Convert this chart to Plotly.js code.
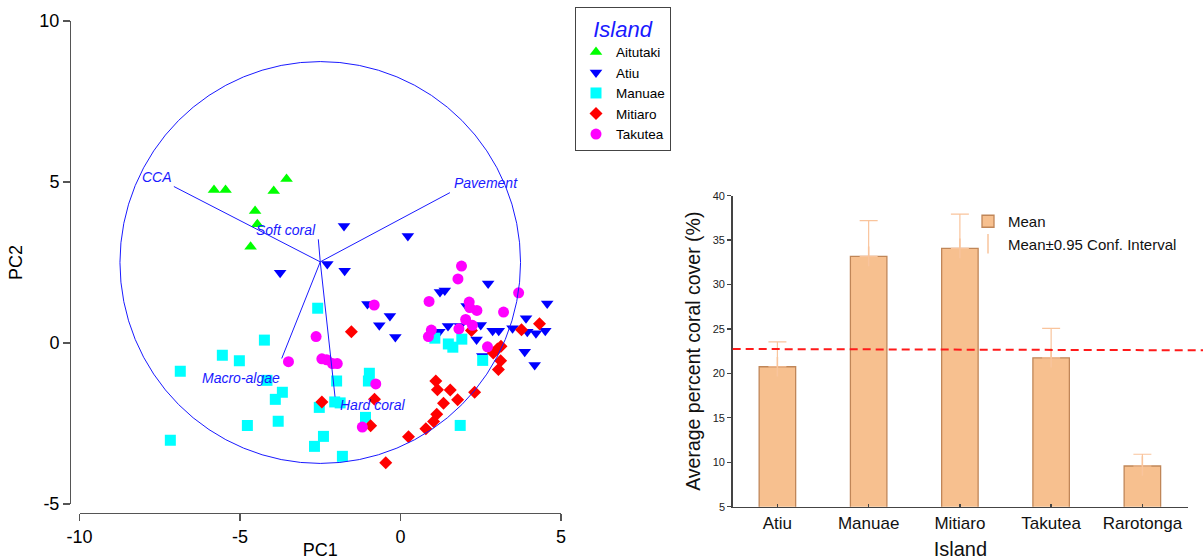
<!DOCTYPE html>
<html><head><meta charset="utf-8">
<script src="https://cdn.plot.ly/plotly-3.0.1.min.js"></script>
<style>html,body{margin:0;padding:0;background:#fff;}</style>
</head><body>
<div id="chart" style="width:1203px;height:560px;"></div>
<script>
// ---------- PCA biplot data ----------
const aitutakiX = [-5.81, -5.45, -3.95, -3.55, -4.53, -4.46, -4.67];
const aitutakiY = [4.75, 4.75, 4.72, 5.09, 4.10, 3.69, 2.99];

const atiuX = [-3.75, -1.76, 0.23, -2.28, -1.74, 1.23, 1.38, 2.73, 4.57, -1.03, -0.33, -0.66, -0.16, 2.06, 3.91, 1.48, 1.85, 2.50, 1.21, 2.37, 2.87, 3.06, 3.49, 3.95, 4.22, 4.51, 3.87, 4.18, 2.55];
const atiuY = [2.18, 3.63, 3.32, 2.45, 2.24, 1.58, 1.63, 1.85, 1.23, 1.21, 0.84, 0.55, 0.19, 1.15, 0.77, 0.53, 0.53, 0.56, 0.35, 0.11, 0.38, 0.38, 0.46, 0.35, 0.30, 0.38, -0.27, -0.68, -0.40];

const manuaeX = [-2.58, -4.24, -5.55, -5.02, -6.86, -4.16, -3.68, -3.90, -4.77, -3.81, -7.17, -2.68, -2.40, -1.81, -1.99, -0.97, -1.00, -2.05, -1.88, -2.53, -1.09, 1.86, 1.07, 1.49, 1.63, 1.91, 2.56];
const manuaeY = [1.08, 0.09, -0.38, -0.55, -0.88, -1.16, -1.53, -1.75, -2.56, -2.43, -3.02, -3.21, -2.90, -3.52, -1.18, -0.94, -1.18, -1.83, -1.86, -2.00, -2.31, -2.56, 0.15, -0.03, -0.13, 0.12, -0.54];

const mitiaroX = [-1.53, -2.45, -0.81, -0.93, -0.46, 0.25, 0.79, 1.03, 1.13, 1.34, 1.78, 1.55, 1.10, 1.15, 2.31, 2.21, 2.89, 3.02, 3.13, 3.12, 3.05, 3.77, 4.33];
const mitiaroY = [0.35, -1.83, -1.75, -2.57, -3.72, -2.91, -2.66, -2.44, -2.21, -1.87, -1.76, -1.46, -1.18, -1.45, -1.53, 0.39, -0.31, -0.19, -0.10, -0.55, -0.82, 0.41, 0.60];

const takuteaX = [1.90, 1.79, 3.68, 0.89, -0.82, 2.14, 2.16, 2.38, 3.21, 2.03, 2.24, 1.82, 0.96, 0.87, 2.71, -2.63, -2.45, -2.30, -2.12, -1.97, -0.77, -1.19, -3.49];
const takuteaY = [2.39, 1.99, 1.56, 1.29, 1.18, 1.27, 1.10, 1.01, 0.96, 0.73, 0.55, 0.44, 0.40, 0.20, -0.12, 0.20, -0.49, -0.52, -0.64, -0.64, -1.27, -2.61, -0.58];

// variable loadings (biplot vectors)
const vectorNames = ['CCA', 'Pavement', 'Soft coral', 'Macro-algae', 'Hard coral'];
const vectorEndX = [-7.06, 1.54, -2.56, -3.70, -2.04];
const vectorEndY = [4.86, 4.67, 3.22, -0.48, -1.67];
const vectorOrigin = [-2.5, 2.52];
const circleCenter = [-2.5, 2.5];
const circleRadius = [6.24];

// axis tick labels of the biplot
const pc1Ticks = [-10, -5, 0, 5];
const pc1TickText = ['-10', '-5', '0', '5'];
const pc2Ticks = [-5, 0, 5, 10];
const pc2TickText = ['-5', '0', '5', '10'];

// ---------- bar chart data ----------
const islands = ['Atiu', 'Manuae', 'Mitiaro', 'Takutea', 'Rarotonga'];
const meanCover = [20.75, 33.17, 34.07, 21.76, 9.58];
const ciUpper = [23.56, 37.20, 37.92, 25.07, 10.90];
const referenceLine = [22.75, 22.60];

// ---------- styles ----------
const FONT = 'Liberation Sans, Arial, Helvetica, sans-serif';
const W = 1203, H = 560;
const px = v => v / W;
const py = v => (H - v) / H;

const groups = [
  {name: 'Aitutaki', x: aitutakiX, y: aitutakiY, symbol: 'triangle-up', color: '#00ff00', size: 11},
  {name: 'Atiu', x: atiuX, y: atiuY, symbol: 'triangle-down', color: '#0000ff', size: 11},
  {name: 'Manuae', x: manuaeX, y: manuaeY, symbol: 'square', color: '#00ffff', size: 11},
  {name: 'Mitiaro', x: mitiaroX, y: mitiaroY, symbol: 'diamond', color: '#ff0000', size: 10},
  {name: 'Takutea', x: takuteaX, y: takuteaY, symbol: 'circle', color: '#ff00ff', size: 11}
];

const traces = groups.map(g => ({
  type: 'scatter', mode: 'markers', name: g.name, x: g.x, y: g.y,
  xaxis: 'x', yaxis: 'y', legend: 'legend',
  marker: {symbol: g.symbol, color: g.color, size: g.size, line: {width: 0}},
  hoverinfo: 'x+y+name'
}));

traces.push({
  type: 'bar', name: 'Mean', x: islands, y: meanCover, xaxis: 'x3', yaxis: 'y3',
  legend: 'legend2', width: 0.4,
  marker: {color: '#f7c08f', line: {color: '#c08658', width: 1.3}}
});
traces.push({
  type: 'scatter', mode: 'markers', name: 'Mean\u00b10.95 Conf. Interval',
  x: islands, y: meanCover, xaxis: 'x3', yaxis: 'y3', legend: 'legend2',
  marker: {symbol: 'line-ns-open', size: 14, color: '#f9c49c', line: {color: '#f7b98a', width: 1.5}},
  error_y: {type: 'data', symmetric: false,
            array: ciUpper.map((u, i) => u - meanCover[i]),
            arrayminus: meanCover.map(() => 0),
            color: '#f9c49c', thickness: 1.2, width: 9}
});

const labelStyle = {
  'CCA':         {xanchor: 'right', xshift: 0,  yshift: 10},
  'Pavement':    {xanchor: 'left',  xshift: 2,  yshift: 10},
  'Soft coral':  {xanchor: 'right', xshift: 0,  yshift: 9},
  'Macro-algae': {xanchor: 'right', xshift: 0,  yshift: -20},
  'Hard coral':  {xanchor: 'left',  xshift: 3,  yshift: -8}
};

const shapes = [];
shapes.push({type: 'circle', xref: 'x', yref: 'y', layer: 'above',
  x0: circleCenter[0] - circleRadius[0], x1: circleCenter[0] + circleRadius[0],
  y0: circleCenter[1] - circleRadius[0], y1: circleCenter[1] + circleRadius[0],
  line: {color: '#1a1aff', width: 1}});
vectorNames.forEach((n, i) => {
  shapes.push({type: 'line', xref: 'x', yref: 'y', layer: 'above',
    x0: vectorOrigin[0], y0: vectorOrigin[1], x1: vectorEndX[i], y1: vectorEndY[i],
    line: {color: '#1a1aff', width: 1}});
});
shapes.push({type: 'line', xref: 'x3 domain', yref: 'y3', layer: 'above',
  x0: 0, x1: (W - 732.7) / (1188 - 732.7), y0: referenceLine[0], y1: referenceLine[1],
  line: {color: '#ff1a1a', width: 2, dash: '8px,5px'}});

const annotations = vectorNames.map((n, i) => ({
  xref: 'x', yref: 'y', x: vectorEndX[i], y: vectorEndY[i], text: n, showarrow: false,
  xanchor: labelStyle[n].xanchor, yanchor: 'middle',
  xshift: labelStyle[n].xshift, yshift: labelStyle[n].yshift,
  font: {family: FONT, size: 14, color: '#1a1aff', style: 'italic'}
}));

const axisCommon = {
  showgrid: false, zeroline: false, showline: true, linecolor: '#555', linewidth: 1.3,
  tickcolor: '#555', tickwidth: 1.3, automargin: false
};

const layout = {
  width: W, height: H, margin: {l: 0, r: 0, t: 0, b: 0},
  paper_bgcolor: '#fff', plot_bgcolor: 'rgba(0,0,0,0)',
  font: {family: FONT, color: '#000'},
  showlegend: true,
  xaxis: Object.assign({}, axisCommon, {
    domain: [px(79.5), px(561)], range: [-10, 5], anchor: 'free', position: py(513),
    tickmode: 'array', tickvals: pc1Ticks, ticktext: pc1TickText, ticks: 'outside', ticklen: 7,
    tickfont: {size: 18, color: '#000'},
    title: {text: 'PC1', font: {size: 18, color: '#000'}, standoff: 16}
  }),
  yaxis: Object.assign({}, axisCommon, {
    domain: [py(504), py(21)], range: [-5, 10], anchor: 'free', position: px(70),
    tickmode: 'array', tickvals: pc2Ticks, ticktext: pc2TickText, ticks: 'outside', ticklen: 7,
    tickfont: {size: 18, color: '#000'},
    title: {text: 'PC2', font: {size: 18, color: '#000'}, standoff: 10}
  }),
  xaxis2: {overlaying: 'x', anchor: 'free', position: py(513), range: [-10, 5],
    showgrid: false, zeroline: false, showline: false, showticklabels: false,
    tickmode: 'array', tickvals: pc1Ticks, ticks: 'inside', ticklen: 7, tickcolor: '#555', tickwidth: 1.3},
  yaxis2: {overlaying: 'y', anchor: 'free', position: px(70), range: [-5, 10],
    showgrid: false, zeroline: false, showline: false, showticklabels: false,
    tickmode: 'array', tickvals: pc2Ticks, ticks: 'inside', ticklen: 7, tickcolor: '#555', tickwidth: 1.3},
  xaxis3: Object.assign({}, axisCommon, {
    domain: [px(732.7), px(1188)], range: [-0.49, 4.5], anchor: 'y3',
    linecolor: '#444', linewidth: 1.5, tickcolor: '#444',
    ticks: 'inside', ticklen: 3, tickfont: {size: 17, color: '#111'},
    title: {text: 'Island', font: {size: 20, color: '#111'}, standoff: 12}
  }),
  yaxis3: Object.assign({}, axisCommon, {
    domain: [py(506.7), py(195.7)], range: [5, 40], anchor: 'x3',
    linecolor: '#444', linewidth: 1.5, tickcolor: '#444',
    tickmode: 'linear', tick0: 5, dtick: 5, ticks: 'outside', ticklen: 4,
    tickfont: {size: 11, color: '#222'},
    title: {text: 'Average percent coral cover (%)', font: {size: 19.5, color: '#111'}, standoff: 7}
  }),
  legend: {
    x: px(575), y: py(7), xanchor: 'left', yanchor: 'top',
    bgcolor: '#fff', bordercolor: '#444', borderwidth: 1,
    font: {size: 13.5, color: '#000'},
    title: {text: 'Island', side: 'top center', font: {size: 22, color: '#1a1aff', style: 'italic'}},
    tracegroupgap: 0
  },
  legend2: {
    x: px(968), y: py(205), xanchor: 'left', yanchor: 'top',
    bgcolor: 'rgba(0,0,0,0)', borderwidth: 0,
    font: {size: 15, color: '#111'}, tracegroupgap: 0
  },
  shapes: shapes,
  annotations: annotations
};

Plotly.newPlot('chart', traces, layout, {displayModeBar: false, staticPlot: true});
</script>
</body></html>
